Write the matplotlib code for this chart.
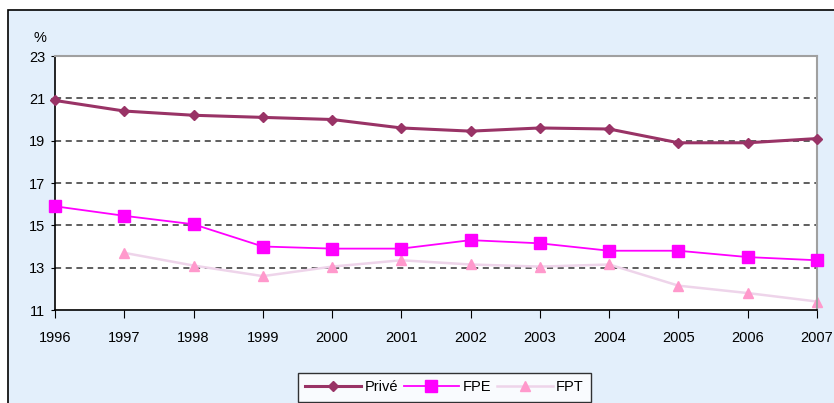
import matplotlib
matplotlib.use('Agg')
import matplotlib.pyplot as plt
from matplotlib.patches import Rectangle

plt.rcParams['font.family'] = ['Liberation Sans', 'DejaVu Sans']

years = [1996, 1997, 1998, 1999, 2000, 2001, 2002, 2003, 2004, 2005, 2006, 2007]
prive = [20.9, 20.4, 20.2, 20.1, 20.0, 19.6, 19.45, 19.6, 19.55, 18.9, 18.9, 19.1]
fpe = [15.9, 15.45, 15.05, 14.0, 13.9, 13.9, 14.3, 14.15, 13.8, 13.8, 13.5, 13.35]
fpt_years = years[1:]
fpt = [13.7, 13.1, 12.6, 13.05, 13.35, 13.15, 13.05, 13.15, 12.15, 11.8, 11.4]
yticks = [11, 13, 15, 17, 19, 21, 23]

fig = plt.figure(figsize=(8.34, 4.03), dpi=100)
fig.patch.set_facecolor('white')
# cadre bleu clair
fig.patches.append(Rectangle((8 / 834, -0.05), 1.0, 1 - 10 / 403 + 0.05,
                             transform=fig.transFigure, facecolor='#E3EFFB',
                             edgecolor='black', linewidth=1.2, zorder=-1))

ax = fig.add_axes([55 / 834, 1 - 310 / 403, (817 - 55) / 834, (310 - 56) / 403])
ax.set_facecolor('white')

for y in [13, 15, 17, 19, 21]:
    ax.axhline(y, color='#333333', linestyle=(0, (4, 3)), linewidth=1.1, zorder=1)

ax.plot(fpt_years, fpt, color='#EED4EA', linewidth=1.8, marker='^', markersize=7,
        markerfacecolor='#FF99CC', markeredgecolor='#FF99CC', label='FPT', zorder=2, clip_on=False)
ax.plot(years, fpe, color='#FF00FF', linewidth=1.3, marker='s', markersize=8,
        markerfacecolor='#FF00FF', markeredgecolor='#FF00FF', label='FPE', zorder=3, clip_on=False)
ax.plot(years, prive, color='#993366', linewidth=2.2, marker='D', markersize=5.5,
        markerfacecolor='#993366', markeredgecolor='#993366', label='Privé', zorder=4, clip_on=False)

ax.set_xlim(1996, 2007)
ax.set_ylim(11, 23)
ax.set_yticks(yticks)
ax.set_xticks(years)
ax.tick_params(axis='y', direction='out', length=3, labelsize=10.5, pad=4)
ax.tick_params(axis='x', direction='out', length=6, labelsize=10.5, pad=9)

ax.spines['left'].set_color('black')
ax.spines['bottom'].set_color('black')
ax.spines['left'].set_linewidth(1.2)
ax.spines['bottom'].set_linewidth(1.2)
ax.spines['top'].set_color('#A0A0A0')
ax.spines['right'].set_color('#A0A0A0')
ax.spines['top'].set_linewidth(1.5)
ax.spines['right'].set_linewidth(1.5)

fig.text(40 / 834, 1 - 38 / 403, '%', fontsize=10.5, ha='center', va='center')

handles, labels = ax.get_legend_handles_labels()
order = [2, 1, 0]
leg = fig.legend([handles[i] for i in order], [labels[i] for i in order],
                 loc='upper left', bbox_to_anchor=(298 / 834, 1 - 373 / 403),
                 ncol=3, frameon=True, fontsize=10.5, handlelength=3.8,
                 columnspacing=0.4, handletextpad=0.25, borderpad=0.5,
                 borderaxespad=0, fancybox=False)
leg.get_frame().set_edgecolor('black')
leg.get_frame().set_linewidth(1.0)
leg.get_frame().set_facecolor('white')

fig.savefig('out.png', dpi=100)
